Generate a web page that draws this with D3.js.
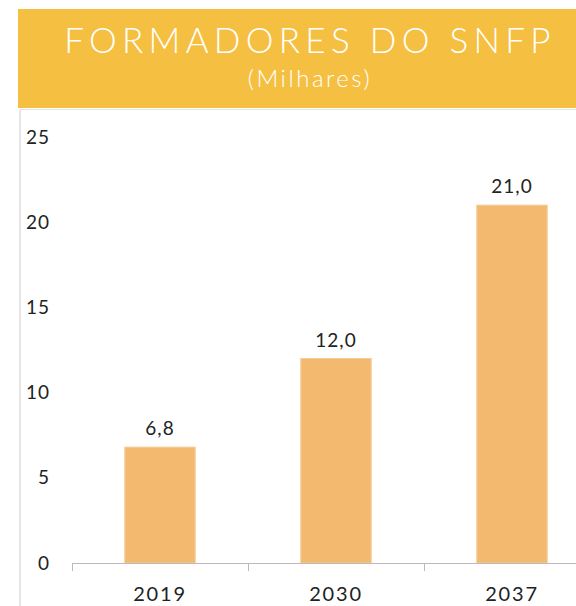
<!DOCTYPE html>
<html>
<head>
<meta charset="utf-8">
<script src="https://cdn.jsdelivr.net/npm/d3@7"></script>
<style>
  body { margin: 0; background: #fff; }
  svg { display: block; font-family: Lato, 'Noto Sans', sans-serif; }
</style>
</head>
<body>
<div id="chart"></div>
<script>
// data
const years = ['2019', '2030', '2037'];
const values = [6.8, 12.0, 21.0];
const valueLabels = ['6,8', '12,0', '21,0'];
const yTicks = [0, 5, 10, 15, 20, 25];

const width = 576;
const height = 606;

const svg = d3.select('#chart')
  .append('svg')
  .attr('width', width)
  .attr('height', height);

// title band
svg.append('rect')
  .attr('x', 18).attr('y', 9)
  .attr('width', width - 18).attr('height', 99)
  .attr('fill', '#F5BF42');

svg.append('text')
  .attr('x', 310).attr('y', 53)
  .attr('text-anchor', 'middle')
  .attr('fill', '#fff')
  .style('font-size', '35px')
  .style('font-weight', 300)
  .style('letter-spacing', '5.3px')
  .text('FORMADORES DO SNFP');

svg.append('text')
  .attr('x', 310).attr('y', 87)
  .attr('text-anchor', 'middle')
  .attr('fill', '#fff')
  .style('font-size', '24px')
  .style('font-weight', 300)
  .style('letter-spacing', '2.5px')
  .text('(Milhares)');

// panel frame
svg.append('line')
  .attr('x1', 20).attr('x2', 20)
  .attr('y1', 110).attr('y2', height)
  .attr('stroke', '#ccc');
svg.append('line')
  .attr('x1', 20).attr('x2', width)
  .attr('y1', 109.5).attr('y2', 109.5)
  .attr('stroke', '#e6e6e6');

const x = d3.scaleBand()
  .domain(years)
  .range([72, 600]);

const y = d3.scaleLinear()
  .domain([0, 25])
  .range([563, 137]);

const barW = x.bandwidth() * 0.4;

// y labels (no axis line)
svg.append('g')
  .selectAll('text')
  .data(yTicks)
  .enter().append('text')
    .attr('x', 50)
    .attr('y', d => y(d))
    .attr('dy', '0.35em')
    .attr('text-anchor', 'end')
    .attr('fill', '#222')
    .style('font-size', '19px')
    .style('letter-spacing', '1px')
    .text(d => d);

// bars
svg.append('g')
  .selectAll('rect')
  .data(values)
  .enter().append('rect')
    .attr('x', (d, i) => x(years[i]) + (x.bandwidth() - barW) / 2)
    .attr('y', d => y(d))
    .attr('width', barW)
    .attr('height', d => y(0) - y(d))
    .attr('fill', '#F3BA6F')
    .attr('stroke', '#F6CB94')
    .attr('stroke-width', 1);

// value labels
svg.append('g')
  .selectAll('text')
  .data(values)
  .enter().append('text')
    .attr('x', (d, i) => x(years[i]) + x.bandwidth() / 2)
    .attr('y', d => y(d) - 12)
    .attr('text-anchor', 'middle')
    .attr('fill', '#222')
    .style('font-size', '19px')
    .style('letter-spacing', '1px')
    .text((d, i) => valueLabels[i]);

// x axis
const xAxis = d3.axisBottom(x).tickSize(0).tickPadding(24);
const gx = svg.append('g')
  .attr('transform', `translate(0,${y(0)})`)
  .call(xAxis);
gx.select('.domain').attr('stroke', '#bbb').attr('d', `M72,0.5H${width}`);
gx.selectAll('text')
  .attr('fill', '#222')
  .style('font-size', '20px')
  .style('letter-spacing', '1.8px')
  .style('font-family', "Lato, 'Noto Sans', sans-serif");

// separators between categories
svg.append('g')
  .selectAll('line')
  .data(years)
  .enter().append('line')
    .attr('x1', d => x(d) + 0.5)
    .attr('x2', d => x(d) + 0.5)
    .attr('y1', y(0))
    .attr('y2', y(0) + 8)
    .attr('stroke', '#bbb');
</script>
</body>
</html>
